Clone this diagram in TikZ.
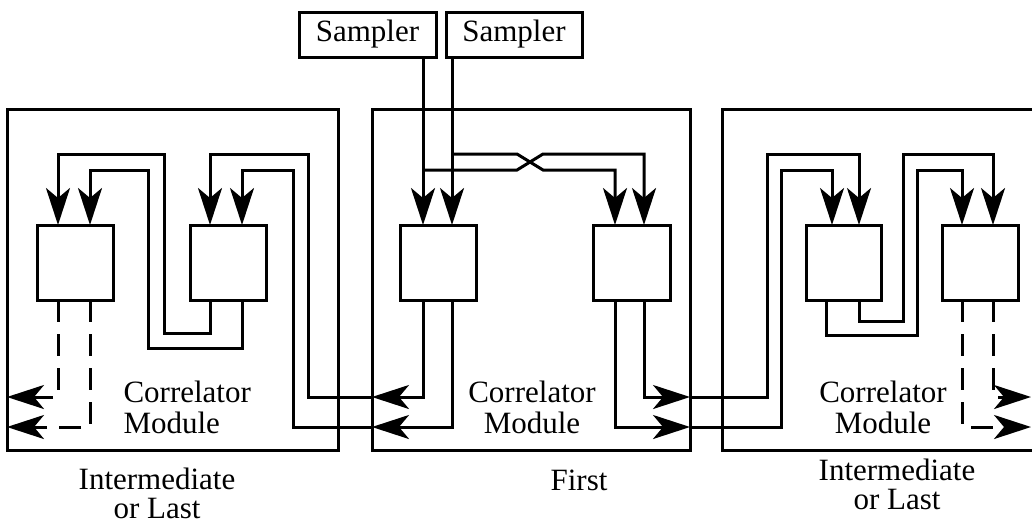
\documentclass[tikz,border=0pt]{standalone}
\usepackage{fontspec}
\setmainfont{Liberation Serif}
\usetikzlibrary{arrows.meta,calc}
\begin{document}
\begin{tikzpicture}[x=1pt,y=-1pt,
  line width=3pt,
  box/.style={draw, line width=3pt, inner sep=0pt, outer sep=0pt},
  arr/.style={-{Stealth[length=37pt,width=24pt,inset=10pt]}},
  dsh/.style={dash pattern=on 22pt off 12pt},
  lbl/.style={font=\fontsize{31}{31}\selectfont, inner sep=0pt},
  sub/.style={font=\fontsize{31}{29}\selectfont, inner sep=0pt, align=center},
  ]
\useasboundingbox (0,0) rectangle (1032,523);
\clip (0,0) rectangle (1032,523);
% modules
\node[box, minimum width=331pt, minimum height=341pt] (ML) at (172.5,279.5) {};
\node[box, minimum width=318pt, minimum height=341pt] (MM) at (531,279.5) {};
\node[box, minimum width=330pt, minimum height=341pt] (MR) at (887,279.5) {};
% inner boxes
\node[box, minimum width=76pt, minimum height=75pt] (L1) at (75,262.5) {};
\node[box, minimum width=76pt, minimum height=75pt] (L2) at (228,262.5) {};
\node[box, minimum width=76pt, minimum height=75pt] (A) at (438,262.5) {};
\node[box, minimum width=77pt, minimum height=75pt] (B) at (632,262.5) {};
\node[box, minimum width=75pt, minimum height=75pt] (R1) at (843.5,262.5) {};
\node[box, minimum width=76pt, minimum height=75pt] (R2) at (980,262.5) {};
% samplers
\node[box, lbl, minimum width=137pt, minimum height=45pt] (S1) at (367.5,34.5) {Sampler};
\node[box, lbl, minimum width=136pt, minimum height=45pt] (S2) at (514,34.5) {Sampler};
\coordinate (j1) at (452,154);
\coordinate (j2) at (423,170);
\coordinate (o1) at (1031,397);
\coordinate (o2) at (1031,427);
% left module
\draw[arr] (L2.south -| 210,0) -- (210,333) -- (164,333) -- (164,154) -- (58,154) -- (L1.north -| 58,0);
\draw[arr] (L2.south -| 242,0) -- (242,348) -- (148,348) -- (148,170) -- (90,170) -- (L1.north -| 90,0);
\draw[arr] (MM.west |- 0,397) -- (308,397) -- (308,154) -- (210,154) -- (L2.north -| 210,0);
\draw[arr] (MM.west |- 0,427) -- (293,427) -- (293,170) -- (242,170) -- (L2.north -| 242,0);
\draw[arr,dsh] (L1.south -| 58,0) -- (58,397) -- (ML.west |- 0,397);
\draw[arr,dsh] (L1.south -| 90,0) -- (90,427) -- (ML.west |- 0,427);
% middle module
\draw[arr] (S1.south -| 423,0) -- (A.north -| 423,0);
\draw[arr] (S2.south -| 452,0) -- (A.north -| 452,0);
\draw[arr] (j1) -- (517,154) -- (543,170) -- (615,170) -- (B.north -| 615,0);
\draw[arr] (j2) -- (517,170) -- (543,154) -- (644,154) -- (B.north -| 644,0);
\draw[arr] (A.south -| 423,0) -- (423,397) -- (MM.west |- 0,397);
\draw[arr] (A.south -| 452,0) -- (452,427) -- (MM.west |- 0,427);
\draw[arr] (B.south -| 644,0) -- (644,397) -- (MM.east |- 0,397);
\draw[arr] (B.south -| 615,0) -- (615,427) -- (MM.east |- 0,427);
% right module
\draw[arr] (MM.east |- 0,397) -- (767,397) -- (767,154) -- (859,154) -- (R1.north -| 859,0);
\draw[arr] (MM.east |- 0,427) -- (781,427) -- (781,170) -- (832,170) -- (R1.north -| 832,0);
\draw[arr] (R1.south -| 826,0) -- (826,335) -- (917,335) -- (917,170) -- (962,170) -- (R2.north -| 962,0);
\draw[arr] (R1.south -| 859,0) -- (859,321) -- (903,321) -- (903,154) -- (993,154) -- (R2.north -| 993,0);
\draw[arr,dsh] (R2.south -| 993,0) -- (993,397) -- (o1);
\draw[arr,dsh] (R2.south -| 962,0) -- (962,427) -- (o2);
% labels
\node[lbl, align=left, anchor=west] (tL) at (122,407) {Correlator\\Module};
\node[lbl, align=center] (tM) at (532,407) {Correlator\\Module};
\node[lbl, align=center] (tR) at (883,407) {Correlator\\Module};
\node[sub] (bL) at (157,493) {Intermediate\\or Last};
\node[sub, anchor=base] (bM) at (579,490) {First};
\node[sub] (bR) at (897,484) {Intermediate\\or Last};
\end{tikzpicture}
\end{document}
